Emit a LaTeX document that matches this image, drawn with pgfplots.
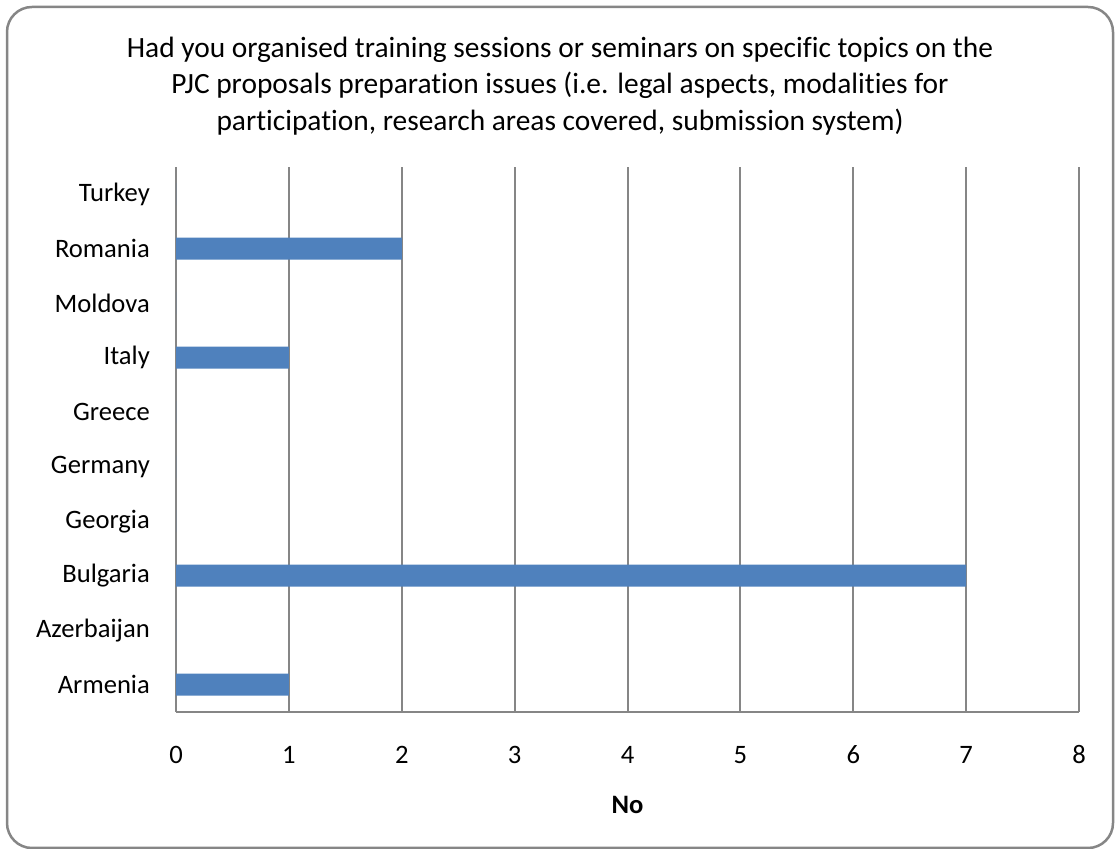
\documentclass[border=0pt]{standalone}
\usepackage{fontspec}
\setmainfont{Carlito}[Ligatures=NoCommon]
\usepackage{pgfplots}
\pgfplotsset{compat=1.18}
\definecolor{barblue}{HTML}{4F81BD}
\definecolor{gridgray}{HTML}{868686}
\begin{document}
\fontsize{27bp}{33bp}\selectfont
\begin{tikzpicture}
\useasboundingbox (0bp,0bp) rectangle (1115bp,849bp);
% chart frame
\draw[gridgray, line width=2.5bp, rounded corners=25bp] (7bp,1bp) rectangle (1113bp,842bp);
% title
\node[align=center, inner sep=0pt, font=\fontsize{29.4bp}{36.6bp}\selectfont] at (560bp,763bp)
  {Had you organised training sessions or seminars on specific topics on the\\
   PJC proposals preparation issues (i.e. legal aspects, modalities for\\
   participation, research areas covered, submission system)};
\begin{axis}[
    at={(176bp,137bp)}, anchor=south west,
    scale only axis,
    width=903bp, height=545bp,
    xbar,
    bar width=22bp,
    xmin=0, xmax=8,
    ymin=-0.5, ymax=9.5,
    xtick={0,1,...,8},
    ytick={0,1,...,9},
    yticklabels={Armenia,Azerbaijan,Bulgaria,Georgia,Germany,Greece,Italy,Moldova,Romania,Turkey},
    xmajorgrids,
    grid style={gridgray, line width=2bp},
    axis x line*=bottom,
    axis y line*=left,
    axis line style={gridgray, line width=2bp, -},
    major tick length=0pt,
    /pgf/number format/assume math mode=true,
    ticklabel style={font=\fontsize{26.6bp}{33bp}\selectfont, inner sep=0pt},
    xticklabel style={anchor=base, yshift=-52bp},
    yticklabel style={anchor=east, xshift=-26bp},
    xlabel={No},
    xlabel style={at={(axis description cs:0.5,0)}, anchor=base, yshift=-102bp,
                  inner sep=0pt, font=\fontsize{26.6bp}{33bp}\selectfont\bfseries},
]
\addplot[fill=barblue, draw=none] coordinates {
    (1,0) (0,1) (7,2) (0,3) (0,4) (0,5) (1,6) (0,7) (2,8) (0,9)
};
\end{axis}
\end{tikzpicture}
\end{document}
